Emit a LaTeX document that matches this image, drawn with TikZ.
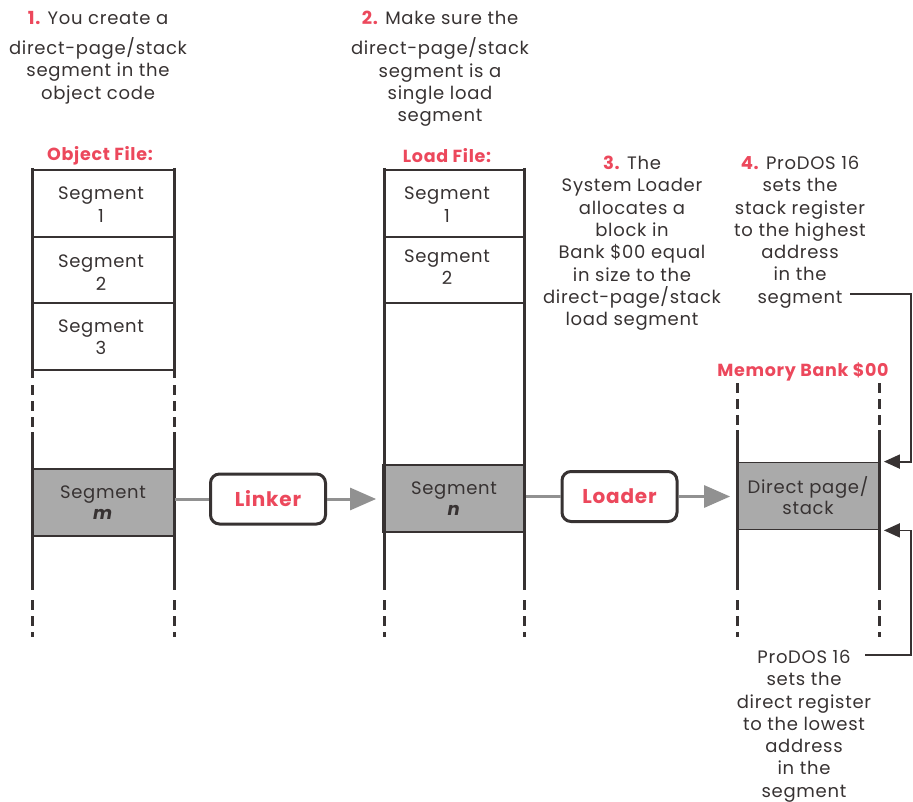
\documentclass[tikz,border=0pt]{standalone}
\usepackage{fontspec}
\setmainfont{Poppins}[LetterSpace=4]
\usetikzlibrary{arrows.meta}
\definecolor{agred}{RGB}{236,72,92}
\definecolor{ink}{RGB}{55,50,50}
\definecolor{segfill}{RGB}{170,170,170}
\definecolor{linkgray}{RGB}{145,145,145}
\newcommand{\stepnum}[1]{\textcolor{agred}{\bfseries #1}}
\begin{document}
\begin{tikzpicture}[x=1pt,y=-1pt,
  txt/.style={font=\fontsize{18}{22.3}\selectfont, text=ink, align=center, inner sep=0pt},
  lbl/.style={font=\fontsize{17.5}{18}\selectfont\bfseries, text=agred, inner sep=0pt},
  colline/.style={line width=3pt, draw=ink},
  dashcol/.style={line width=3pt, draw=ink, dash pattern=on 10pt off 6pt},
  divline/.style={line width=1.8pt, draw=ink},
  seggray/.style={draw=ink, line width=1.8pt, fill=segfill, minimum width=142pt, minimum height=67pt, inner sep=0pt, font=\fontsize{18}{21}\selectfont, text=ink, align=center},
  proc/.style={draw=ink, line width=3pt, rounded corners=9pt, fill=white, minimum width=115pt, minimum height=50pt, inner sep=0pt, font=\fontsize{20}{20}\selectfont\bfseries, text=agred},
  feed/.style={draw=linkgray, line width=3pt},
  feedarrow/.style={draw=linkgray, line width=3pt, -{Triangle[length=26pt,width=22pt,fill=linkgray]}},
  blkarrow/.style={draw=ink, line width=1.8pt, -{Triangle[length=16pt,width=14pt]}}
]
\useasboundingbox (0,0) rectangle (913,802);

% step texts
\node[txt, anchor=north] (t1) at (98,11) {\stepnum{1.} You create a\\[8pt]direct-page/stack\\segment in the\\object code};
\node[txt, anchor=north] (t2) at (440,11) {\stepnum{2.} Make sure the\\[8pt]direct-page/stack\\segment is a\\single load\\segment};
\node[txt, anchor=north] (t3) at (632,156) {\stepnum{3.} The\\System Loader\\allocates a\\block in\\Bank \$00 equal\\in size to the\\direct-page/stack\\load segment};
\node[txt, anchor=north] (t4) at (800,156) {\stepnum{4.} ProDOS 16\\sets the\\stack register\\to the highest\\address\\in the\\segment};
\node[txt, anchor=north] (t5) at (804,650) {ProDOS 16\\sets the\\direct register\\to the lowest\\address\\in the\\segment};

% column labels
\node[lbl] (objlbl) at (100,156) {Object File:};
\node[lbl] (loadlbl) at (447,156) {Load File:};
\node[lbl] (memlbl) at (803,372) {Memory Bank \$00};

% gray segments
\node[seggray] (segm) at (103,502.5) {Segment\\\textbf{\textit{m}}};
\node[seggray] (segn) at (454,498.5) {Segment\\\textbf{\textit{n}}};
\node[seggray] (dp) at (808,496) {Direct page/\\stack};

% plain segments
\node[txt] (oseg1) at (101,204.5) {Segment\\1};
\node[txt] (oseg2) at (101,272.5) {Segment\\2};
\node[txt] (oseg3) at (101,337.5) {Segment\\3};
\node[txt] (lseg1) at (447,204.5) {Segment\\1};
\node[txt] (lseg2) at (447,267) {Segment\\2};

% object file column
\draw[divline] (32,170) -- (174,170);
\draw[divline] (32,237) -- (174,237);
\draw[divline] (32,303) -- (174,303);
\draw[divline] (32,370) -- (174,370);
\foreach \x in {32,174} {
  \draw[colline] (\x,168) -- (\x,378);
  \draw[dashcol] (\x,385) -- (\x,428);
  \draw[colline] (\x,432) -- (\x,590);
  \draw[dashcol] (\x,600) -- (\x,637);
}
% load file column
\draw[divline] (384,170) -- (524,170);
\draw[divline] (384,237) -- (524,237);
\draw[divline] (384,303) -- (524,303);
\foreach \x in {384,524} {
  \draw[colline] (\x,168) -- (\x,590);
  \draw[dashcol] (\x,600) -- (\x,637);
}
% memory bank column
\foreach \x in {737,879} {
  \draw[dashcol] (\x,383) -- (\x,426);
  \draw[colline] (\x,430) -- (\x,590);
  \draw[dashcol] (\x,600) -- (\x,637);
}

% processes
\node[proc] (lk) at (268,499) {Linker};
\node[proc] (ld) at (619.5,496.5) {Loader};

\draw[feed] (lk.west -| segm.east) -- (lk.west);
\draw[feedarrow] (lk.east) -- ([xshift=-6pt]lk.east -| segn.west);
\draw[feed] (ld.west -| segn.east) -- (ld.west);
\draw[feedarrow] (ld.east) -- ([xshift=-6pt]ld.east -| dp.west);

% register arrows
\coordinate (s4) at (850,294);
\coordinate (r1) at (911,294);
\coordinate (s5) at (865,655);
\coordinate (r2) at (911,655);
\draw[blkarrow] (s4) -- (r1) |- ([xshift=4pt]dp.north east);
\draw[blkarrow] (s5) -- (r2) |- ([xshift=4pt]dp.south east);
\end{tikzpicture}
\end{document}
